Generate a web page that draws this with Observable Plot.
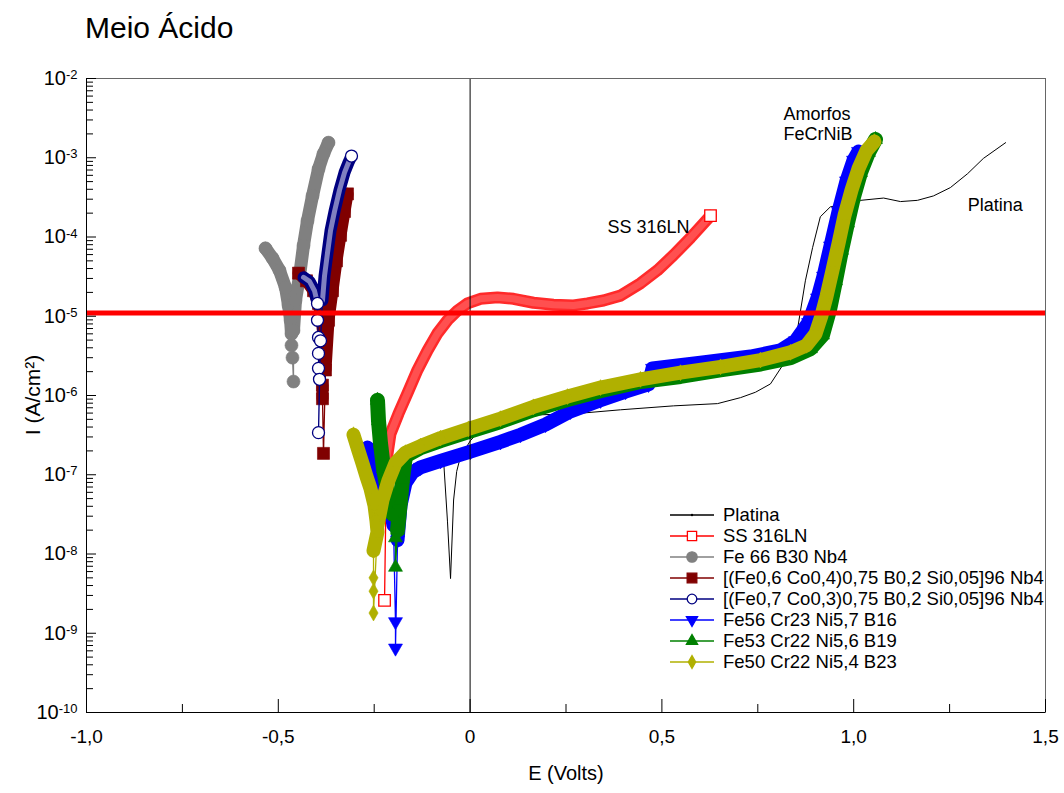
<!DOCTYPE html>
<html><head><meta charset="utf-8">
<script src="https://cdn.jsdelivr.net/npm/d3@7"></script>
<script src="https://cdn.jsdelivr.net/npm/@observablehq/plot@0.6"></script>
<style>
body{margin:0;background:#fff;font-family:"Liberation Sans",Arial,sans-serif;}
#wrap{position:relative;width:1064px;height:793px;overflow:hidden;}
#title{height:50px;box-sizing:border-box;padding:13px 0 0 85px;font-size:30px;line-height:30px;color:#000;}
#legend{position:absolute;left:670px;top:505px;font-size:18.5px;color:#000;}
#legend .row{height:20.9px;display:flex;align-items:center;white-space:nowrap;}
#legend svg{display:block;margin-right:9px;}
</style></head>
<body><div id="wrap"><div id="title">Meio Ácido</div><div id="chart"></div><div id="legend"></div></div>
<script>
// ---------------- data (E in volts, I in A/cm²) ----------------
const ptE = [-0.069,-0.059,-0.051,-0.043,-0.035,-0.025,0.001,0.045,0.131,0.275,0.392,0.530,0.645,0.705,0.744,0.783,0.817,0.853,0.874,0.893,0.913,0.939,0.979,1.018,1.078,1.122,1.166,1.208,1.252,1.297,1.338,1.396];
const ptI = [1.5e-7,2.6e-8,4.9e-9,4.8e-8,1.1e-7,1.7e-7,2.7e-7,4.6e-7,5.6e-7,5.9e-7,6.6e-7,7.4e-7,7.9e-7,9.4e-7,1.1e-6,1.4e-6,2.5e-6,6.6e-6,2.8e-5,7.4e-5,1.8e-4,2.4e-4,2.6e-4,2.9e-4,3.1e-4,2.8e-4,2.9e-4,3.3e-4,4.2e-4,6.3e-4,9.8e-4,1.55e-3];

const ssE = [-0.223,-0.218,-0.2075,-0.1867,-0.1632,-0.1371,-0.111,-0.085,-0.0589,-0.0328,-0.0068,0.0271,0.0714,0.1131,0.1653,0.2174,0.2696,0.3061,0.3478,0.392,0.4442,0.4885,0.5302,0.5746,0.6084,0.6267];
const ssI = [2.6e-9,1.5e-7,3.3e-7,5.9e-7,1.07e-6,2.1e-6,3.7e-6,6.1e-6,8.9e-6,1.18e-5,1.45e-5,1.66e-5,1.73e-5,1.66e-5,1.48e-5,1.4e-5,1.37e-5,1.45e-5,1.58e-5,1.82e-5,2.6e-5,3.8e-5,5.9e-5,9.8e-5,1.48e-4,1.86e-4];
const ssDense = [[1,25]];

const fe66E = [-0.5334,-0.515,-0.497,-0.481,-0.4734,-0.468,-0.4656,-0.4656,-0.463,-0.4604,-0.4604,-0.4552,-0.4447,-0.4343,-0.4239,-0.4108,-0.3952,-0.3822,-0.3691];
const fe66I = [7.2e-5,5.4e-5,3.8e-5,2.3e-5,1.38e-5,8.9e-6,6.0e-6,4.3e-6,3.0e-6,1.5e-6,6.6e-6,1.58e-5,3.2e-5,7.8e-5,1.6e-4,3.3e-4,7.2e-4,1.12e-3,1.55e-3];
const fe66Dense = [[0,6],[10,18]];

const co4E = [-0.4473,-0.4265,-0.4082,-0.3952,-0.3874,-0.3822,-0.3796,-0.3848,-0.3848,-0.3822,-0.377,-0.3691,-0.3587,-0.3483,-0.3378,-0.3274,-0.3196];
const co4I = [3.5e-5,2.8e-5,2.1e-5,1.45e-5,9.3e-6,5.7e-6,3.2e-6,1.35e-6,9.1e-7,1.86e-7,2.1e-6,8.9e-6,2.1e-5,5.0e-5,1.05e-4,2.1e-4,3.5e-4];
const co4Dense = [[0,6],[7,8],[10,16]];

const co3E = [-0.4343,-0.4187,-0.4056,-0.3978,-0.3978,-0.3952,-0.3952,-0.3952,-0.3926,-0.3952,-0.39,-0.3848,-0.3796,-0.3717,-0.3639,-0.3535,-0.3404,-0.3274,-0.317,-0.3092];
const co3I = [3.1e-5,2.75e-5,2.1e-5,1.45e-5,8.9e-6,5.4e-6,3.4e-6,2.2e-6,1.6e-6,3.4e-7,4.9e-6,1.58e-5,3.2e-5,6.3e-5,1.2e-4,2.1e-4,3.9e-4,6.5e-4,8.7e-4,1.05e-3];
const co3Dense = [[0,3],[11,19]];

const fe56E = [-0.2675,-0.2544,-0.2414,-0.2284,-0.2127,-0.1997,-0.1945,-0.1945,-0.1892,-0.1814,-0.1684,-0.1502,-0.1293,-0.0771,0.001,0.0793,0.1314,0.1966,0.2617,0.34,0.4052,0.4651,0.4755,0.6006,0.731,0.8092,0.8483,0.8822,0.9057,0.9213,0.9395,0.9604,0.9812,0.9995,1.0125];
const fe56I = [2.2e-7,1.6e-7,1.1e-7,7.6e-8,5.0e-8,2.3e-8,1.4e-9,6.5e-10,1.5e-8,4.1e-8,7.9e-8,1.07e-7,1.24e-7,1.5e-7,1.96e-7,2.6e-7,3.2e-7,4.3e-7,6.3e-7,8.7e-7,1.12e-6,1.38e-6,2.2e-6,2.6e-6,3.1e-6,3.7e-6,4.9e-6,8.3e-6,1.7e-5,3.2e-5,7.7e-5,2.1e-4,5.1e-4,9.3e-4,1.2e-3];
const fe56Dense = [[0,5],[8,34]];

const fe53E = [-0.2414,-0.2388,-0.2336,-0.2258,-0.2153,-0.2023,-0.1945,-0.1945,-0.1892,-0.1814,-0.1762,-0.1684,-0.1293,-0.0771,-0.0042,0.0793,0.1653,0.2539,0.34,0.4442,0.5485,0.6527,0.757,0.8352,0.8874,0.9187,0.9369,0.9526,0.9682,0.9838,0.9995,1.0177,1.0386,1.0568];
const fe53I = [8.7e-7,4.8e-7,2.5e-7,1.2e-7,6.3e-8,3.2e-8,1.6e-8,6.8e-9,2.0e-8,4.8e-8,8.9e-8,1.73e-7,2.2e-7,2.7e-7,3.5e-7,4.7e-7,6.6e-7,8.9e-7,1.15e-6,1.5e-6,1.74e-6,2.1e-6,2.5e-6,3.0e-6,3.9e-6,5.8e-6,1.2e-5,2.8e-5,6.8e-5,1.5e-4,3.2e-4,6.5e-4,1.17e-3,1.7e-3];
const fe53Dense = [[0,5],[8,33]];

const fe50E = [-0.304,-0.2909,-0.2805,-0.2701,-0.2597,-0.2492,-0.244,-0.2414,-0.2518,-0.2518,-0.2518,-0.2518,-0.2414,-0.2284,-0.2127,-0.1945,-0.1684,-0.1293,-0.0771,-0.0042,0.0793,0.1653,0.2539,0.34,0.4442,0.5485,0.6527,0.757,0.8352,0.877,0.9004,0.9161,0.9291,0.9447,0.9604,0.976,0.9943,1.0125,1.0333,1.054];
const fe50I = [3.2e-7,2.0e-7,1.39e-7,9.5e-8,6.7e-8,4.1e-8,2.6e-8,1.9e-8,1.1e-8,5.0e-9,3.4e-9,1.8e-9,2.3e-8,4.8e-8,8.5e-8,1.4e-7,1.9e-7,2.3e-7,2.9e-7,3.8e-7,5.1e-7,7.2e-7,9.7e-7,1.26e-6,1.6e-6,1.94e-6,2.3e-6,2.8e-6,3.5e-6,4.3e-6,6.0e-6,1.02e-5,1.78e-5,3.8e-5,8.3e-5,1.86e-4,3.9e-4,7.3e-4,1.23e-3,1.6e-3];
const fe50Dense = [[0,8],[12,39]];

const limitI = [1.1e-5];
const zeroE = [0];
const xDomain = [-1, 1.5];
const yDomain = [1e-10, 1e-2];
const xMajorTicks = [-1, -0.5, 0, 0.5, 1, 1.5];
const xMinorTicks = [-0.75, -0.25, 0.25, 0.75, 1.25];
const yMajorTicks = [1e-10,1e-9,1e-8,1e-7,1e-6,1e-5,1e-4,1e-3,1e-2];
const yMinorTicks = [-10,-9,-8,-7,-6,-5,-4,-3].flatMap(d => [2,3,4,5,6,7,8,9].map(k => +(k + "e" + d)));
const annotText = ["SS 316LN", "Amorfos\nFeCrNiB", "Platina"];
const annotE = [0.358, 0.817, 1.297];
const annotI = [1.35e-4, 2.7e-3, 2.57e-4];

// ---------------- styling ----------------
const FONT = '"Liberation Sans", Arial, sans-serif';
const series = [
  {name:"Platina", E:ptE, I:ptI, runs:[], color:"#000", thin:1},
  {name:"SS 316LN", E:ssE, I:ssI, runs:ssDense, color:"#ff0000", symbol:"square", r:6.5, open:true, band:12, bandColor:"#ff2a2a", inner:7, innerOpacity:0.18},
  {name:"Fe 66 B30 Nb4", E:fe66E, I:fe66I, runs:fe66Dense, color:"#808080", symbol:"circle", r:6.5, band:13},
  {name:"[(Fe0,6 Co0,4)0,75 B0,2 Si0,05]96 Nb4", E:co4E, I:co4I, runs:co4Dense, color:"#800000", symbol:"square", r:6.8, band:12},
  {name:"[(Fe0,7 Co0,3)0,75 B0,2 Si0,05]96 Nb4", E:co3E, I:co3I, runs:co3Dense, color:"#000080", symbol:"circle", r:6, open:true, band:12, inner:5, innerOpacity:0.5},
  {name:"Fe56 Cr23 Ni5,7 B16", E:fe56E, I:fe56I, runs:fe56Dense, color:"#0000ff", symbol:"triangle", rotate:180, r:5.2, band:14},
  {name:"Fe53 Cr22 Ni5,6 B19", E:fe53E, I:fe53I, runs:fe53Dense, color:"#008000", symbol:"triangle", r:5.2, band:15},
  {name:"Fe50 Cr22 Ni5,4 B23", E:fe50E, I:fe50I, runs:fe50Dense, color:"#b0b000", symbol:"diamond", r:4.8, band:14}
];

const layers = [];
for (const s of series) {
  const pts = s.E.map((e, i) => ({E: e, I: s.I[i], i}));
  const band = s.runs.flatMap(([a, b], k) => pts.slice(a, b + 1).map(p => ({...p, run: k})));
  const interior = new Set(s.runs.flatMap(([a, b]) => d3.range(a, b)));
  layers.push(Plot.line(pts, {x: "E", y: "I", stroke: s.color, strokeWidth: s.thin ?? 1.3}));
  if (band.length) {
    layers.push(Plot.line(band, {x: "E", y: "I", z: "run", stroke: s.bandColor ?? s.color, strokeWidth: s.band, strokeLinejoin: "round", strokeLinecap: "round"}));
    if (s.inner) layers.push(Plot.line(band, {x: "E", y: "I", z: "run", stroke: "#fff", strokeOpacity: s.innerOpacity, strokeWidth: s.inner, strokeLinejoin: "round", strokeLinecap: "round"}));
  }
  if (s.symbol) {
    const mk = s.open ? pts.filter(p => !interior.has(p.i)) : pts;
    layers.push(Plot.dot(mk, {x: "E", y: "I", symbol: s.symbol, r: s.r, rotate: s.rotate || 0,
      fill: s.open ? "#fff" : s.color, stroke: s.color, strokeWidth: s.open ? 1.3 : 0.6}));
  }
}

const annots = annotText.map((t, i) => ({t, E: annotE[i], I: annotI[i]}));
const fmtX = d => d === 0 ? "0" : d.toFixed(1).replace(".", ",");

const svg = Plot.plot({
  width: 1064, height: 743,
  marginLeft: 86, marginRight: 19, marginTop: 28, marginBottom: 81,
  style: {fontFamily: FONT, background: "#fff", color: "#000"},
  x: {domain: xDomain},
  y: {type: "log", domain: yDomain},
  marks: [
    ...layers,
    Plot.ruleX(zeroE, {stroke: "#000", strokeWidth: 1}),
    Plot.ruleY(limitI, {stroke: "#ff0000", strokeWidth: 5}),
    Plot.text(annots, {x: "E", y: "I", text: "t", textAnchor: "start", fontSize: 18, lineHeight: 1.1, fill: "#000"}),
    Plot.frame({stroke: "#666"}),
    Plot.ruleX([xDomain[0]], {stroke: "#000"}),
    Plot.ruleY([yDomain[0]], {stroke: "#000"}),
    Plot.axisY({ticks: yMajorTicks, tickSize: -10, tickFormat: () => "", label: null}),
    Plot.axisY({ticks: yMinorTicks, tickSize: -7, tickFormat: () => "", label: null}),
    Plot.axisY({ticks: yMajorTicks, tickSize: 0, tickPadding: 9, fontSize: 20, tickFormat: d => "10^" + Math.round(Math.log10(d)), label: null}),
    Plot.axisX({ticks: xMajorTicks, tickSize: -13, tickFormat: () => "", label: null}),
    Plot.axisX({ticks: xMinorTicks, tickSize: -8, tickFormat: () => "", label: null}),
    Plot.axisX({ticks: xMajorTicks, tickSize: 0, tickPadding: 17, fontSize: 19, tickFormat: fmtX, label: null})
  ]
});
document.getElementById("chart").appendChild(svg);

// superscript exponents on y tick labels
d3.select(svg).selectAll('g[aria-label="y-axis tick label"] text').each(function () {
  const [b, e] = this.textContent.split("^");
  const s = d3.select(this);
  s.text(null);
  s.append("tspan").text(b);
  s.append("tspan").attr("dy", "-0.45em").attr("font-size", "13px").text(e);
});
// axis titles
const g = d3.select(svg).append("g").attr("font-family", FONT).attr("fill", "#000");
g.append("text").attr("transform", "translate(33,345) rotate(-90)").attr("text-anchor", "middle").attr("dy", "0.35em").attr("font-size", 21)
  .text("I (A/cm²)");
g.append("text").attr("x", 566).attr("y", 723).attr("text-anchor", "middle").attr("dy", "0.35em").attr("font-size", 20).text("E (Volts)");

// legend
const symMap = {circle: d3.symbolCircle, square: d3.symbolSquare, triangle: d3.symbolTriangle, diamond: d3.symbolDiamond};
const leg = d3.select("#legend");
for (const s of series) {
  const row = leg.append("div").attr("class", "row");
  const sw = row.append("svg").attr("width", 44).attr("height", 20);
  sw.append("line").attr("x1", 0).attr("x2", 44).attr("y1", 10).attr("y2", 10).attr("stroke", s.color).attr("stroke-width", 1.3);
  if (s.symbol) {
    const rr = s.r * 0.8;
    sw.append("path").attr("d", d3.symbol(symMap[s.symbol], Math.PI * rr * rr)())
      .attr("transform", `translate(22,10) rotate(${s.rotate || 0})`)
      .attr("fill", s.open ? "#fff" : s.color).attr("stroke", s.color).attr("stroke-width", 1.3);
  } else {
    sw.append("circle").attr("cx", 22).attr("cy", 10).attr("r", 1.2).attr("fill", s.color);
  }
  row.append("span").text(s.name);
}
</script></body></html>
